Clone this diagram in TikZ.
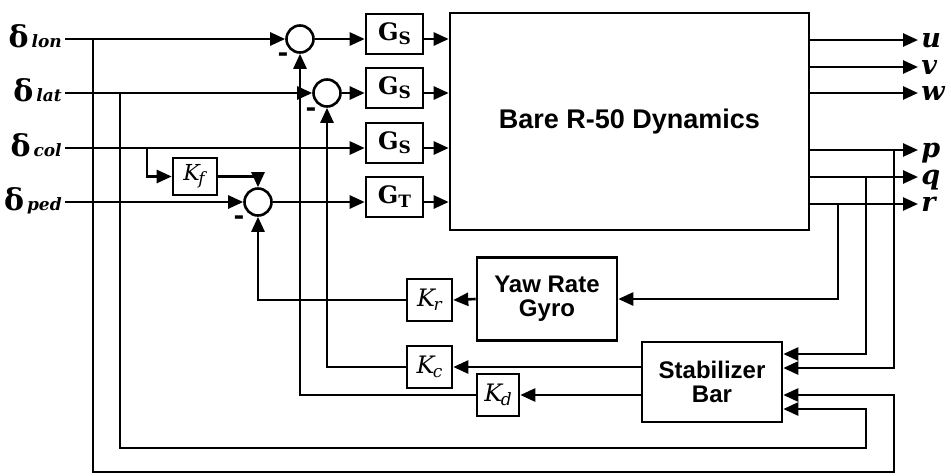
\documentclass[tikz,border=0pt]{standalone}
\usepackage{fontspec}
\setmainfont{DejaVu Serif}
\newfontfamily\hv{Liberation Sans}
\usetikzlibrary{arrows.meta,calc}
\newcommand\mkG[2]{{\fontsize{24}{24}\selectfont\bfseries #1}\raisebox{-4pt}{\fontsize{17}{17}\selectfont\bfseries #2}}
\newcommand\mkK[2][24]{{\fontsize{#1}{#1}\selectfont\itshape K}\kern-1.5pt\raisebox{-4pt}{\fontsize{17}{17}\selectfont\itshape #2}}
\newcommand\mkD[1]{{\fontsize{30}{30}\selectfont\bfseries δ}\kern3pt{\fontsize{17}{17}\selectfont\bfseries\itshape #1}}
\begin{document}
\begin{tikzpicture}[x=1pt,y=-1pt,line width=2.6pt,
  arr/.style={-{Triangle[length=15pt,width=13pt]}},
  gbox/.style={draw,minimum width=57pt,minimum height=40pt,inner sep=0pt},
  kbox/.style={draw,minimum width=45pt,minimum height=42pt,inner sep=0pt},
  sumc/.style={draw,circle,minimum size=27pt,inner sep=0pt},
  bigbox/.style={draw,inner sep=0pt,align=center,font=\hv\bfseries\fontsize{24}{24}\selectfont},
  minus/.style={inner sep=0pt,font=\bfseries\fontsize{26}{26}\selectfont},
  inlab/.style={anchor=base east,inner sep=0pt},
  outlab/.style={anchor=base west,inner sep=0pt,font=\bfseries\itshape\fontsize{27}{27}\selectfont}]
\useasboundingbox (0,0) rectangle (951,475);

% input labels
\node[inlab] (llon) at (63,47) {\mkD{lon}};
\node[inlab] (llat) at (63,101) {\mkD{lat}};
\node[inlab] (lcol) at (63,156) {\mkD{col}};
\node[inlab] (lped) at (63,210) {\mkD{ped}};
\coordinate (ilon) at (65,39);
\coordinate (ilat) at (65,93);
\coordinate (icol) at (65,148);
\coordinate (iped) at (65,202);
\coordinate (blon) at (93,39);
\coordinate (blat) at (120,93);
\coordinate (bcol) at (147,148);

% summing junctions
\node[sumc] (s1) at (300,39) {};
\node[sumc] (s2) at (327,93) {};
\node[sumc] (s3) at (258,202) {};
\node[minus] (m1) at (283,57) {-};
\node[minus] (m2) at (311,112) {-};
\node[minus] (m3) at (239,220) {-};

% forward blocks
\node[gbox] (g1) at (394.5,34) {\mkG{G}{S}};
\node[gbox] (g2) at (394.5,88) {\mkG{G}{S}};
\node[gbox] (g3) at (394.5,143) {\mkG{G}{S}};
\node[gbox] (g4) at (394.5,197) {\mkG{G}{T}};
\node[bigbox,minimum width=359pt,minimum height=217pt,font=\hv\bfseries\fontsize{27}{27}\selectfont] (dyn) at (629.5,121.5) {Bare R-50 Dynamics};

% feedback blocks
\node[kbox,minimum width=44pt,minimum height=37pt] (kf) at (195,176.5) {\mkK[22]{f}\kern2pt};
\node[bigbox,minimum width=140pt,minimum height=83pt] (gyro) at (547,299) {Yaw Rate\\Gyro};
\node[bigbox,minimum width=140pt,minimum height=80pt] (stab) at (712,382) {Stabilizer\\Bar};
\node[kbox] (kr) at (429.5,300) {\mkK{r}};
\node[kbox] (kc) at (429.5,367) {\mkK{c}};
\node[kbox,minimum width=42pt] (kd) at (498,395) {\mkK{d}};

% inputs
\draw[arr] (ilon) -- (s1.west);
\draw[arr] (ilat) -- (s2.west);
\draw[arr] (icol) -- (icol -| g3.west);
\draw[arr] (iped) -- (s3.west);
\draw[arr] (bcol) |- (kf.west);
\draw[arr] (kf.east) -| (s3.north);

% forward path
\draw[arr] (s1.east) -- (s1 -| g1.west);
\draw[arr] (s2.east) -- (s2 -| g2.west);
\draw[arr] (s3.east) -- (s3 -| g4.west);
\draw[arr] (g1.east |- s1) -- (s1 -| dyn.west);
\draw[arr] (g2.east |- s2) -- (s2 -| dyn.west);
\draw[arr] (g3.east |- icol) -- (icol -| dyn.west);
\draw[arr] (g4.east |- s3) -- (s3 -| dyn.west);

% outputs
\coordinate (ou) at (809,40);  \coordinate (tu) at (918,40);
\coordinate (ov) at (809,67);  \coordinate (tv) at (918,67);
\coordinate (ow) at (809,93);  \coordinate (tw) at (918,93);
\coordinate (op) at (809,150); \coordinate (tp) at (918,150);
\coordinate (oq) at (809,177); \coordinate (tq) at (918,177);
\coordinate (or) at (809,204); \coordinate (tr) at (918,204);
\draw[arr] (ou) -- (tu);
\draw[arr] (ov) -- (tv);
\draw[arr] (ow) -- (tw);
\draw[arr] (op) -- (tp);
\draw[arr] (oq) -- (tq);
\draw[arr] (or) -- (tr);
\node[outlab] (lu) at (920,47) {u};
\node[outlab] (lv) at (920,74) {v};
\node[outlab] (lw) at (920,100) {w};
\node[outlab] (lp) at (920,157) {p};
\node[outlab] (lq) at (920,184) {q};
\node[outlab] (lr) at (920,211) {r};

% feedback paths
\coordinate (fr) at (838,204);
\coordinate (fq) at (866,177);
\coordinate (fp) at (894,150);
\draw[arr] (fr) |- (gyro.east);
\draw[arr] (fq) |- ($(stab.east)+(0,-28)$);
\draw[arr] (fp) |- ($(stab.east)+(0,-14)$);
\coordinate (botlon) at (894,472);
\coordinate (botlat) at (866,448);
\draw[arr] (blon) |- (botlon) |- ($(stab.east)+(0,13)$);
\draw[arr] (blat) |- (botlat) |- ($(stab.east)+(0,27)$);
\draw[arr] (gyro.west) -- (kr.east);
\draw[arr] (kr.west) -| (s3.south);
\draw[arr] (stab.west |- kc) -- (kc.east);
\draw[arr] (kc.west) -| (s2.south);
\draw[arr] (stab.west |- kd) -- (kd.east);
\draw[arr] (kd.west) -| (s1.south);
\end{tikzpicture}
\end{document}
